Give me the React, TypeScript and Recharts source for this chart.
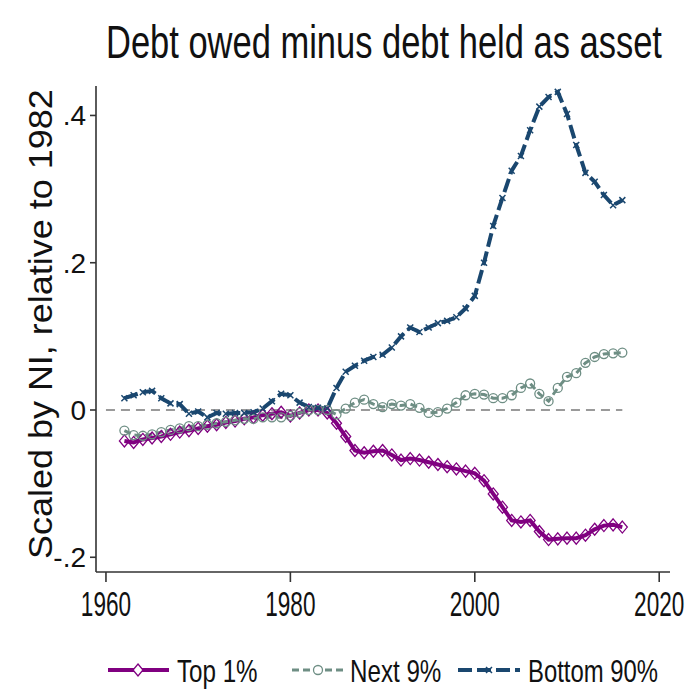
import React from "react";
import { LineChart, Line, XAxis, YAxis, ReferenceLine } from "recharts";

// annual values
const years = [
  1962, 1963, 1964, 1965, 1966, 1967, 1968, 1969, 1970, 1971,
  1972, 1973, 1974, 1975, 1976, 1977, 1978, 1979, 1980, 1981,
  1982, 1983, 1984, 1985, 1986, 1987, 1988, 1989, 1990, 1991,
  1992, 1993, 1994, 1995, 1996, 1997, 1998, 1999, 2000, 2001,
  2002, 2003, 2004, 2005, 2006, 2007, 2008, 2009, 2010, 2011,
  2012, 2013, 2014, 2015, 2016,
];

const top1 = [
  -0.042, -0.044, -0.04, -0.038, -0.036, -0.033, -0.03, -0.028, -0.025, -0.022,
  -0.02, -0.017, -0.015, -0.012, -0.01, -0.007, -0.005, -0.003, -0.008, -0.004,
  0.0, 0.0, -0.004, -0.018, -0.036, -0.055, -0.058, -0.056, -0.055, -0.061,
  -0.068, -0.066, -0.068, -0.071, -0.074, -0.077, -0.08, -0.083, -0.086, -0.096,
  -0.114, -0.132, -0.15, -0.152, -0.15, -0.165, -0.176, -0.175, -0.174, -0.174,
  -0.17, -0.162, -0.157, -0.156, -0.159,
];

const next9 = [
  -0.028, -0.034, -0.035, -0.033, -0.03, -0.027, -0.025, -0.022, -0.022, -0.02,
  -0.018, -0.016, -0.014, -0.012, -0.012, -0.01, -0.01, -0.01, -0.008, -0.004,
  0.0, 0.0, 0.0, -0.006, 0.002, 0.01, 0.014, 0.008, 0.004, 0.008,
  0.006, 0.008, 0.003, -0.004, -0.003, 0.002, 0.01, 0.02, 0.022, 0.021,
  0.016, 0.016, 0.02, 0.03, 0.036, 0.022, 0.012, 0.03, 0.045, 0.05,
  0.064, 0.072, 0.076, 0.077, 0.078,
];

const bottom90 = [
  0.016, 0.02, 0.024, 0.026, 0.016, 0.009, 0.008, -0.005, -0.002, -0.01,
  -0.004, -0.005, -0.004, -0.004, -0.003, 0.002, 0.012, 0.022, 0.02, 0.01,
  0.004, 0.003, 0.002, 0.03, 0.052, 0.06, 0.067, 0.072, 0.075, 0.085,
  0.1, 0.112, 0.106, 0.112, 0.118, 0.121, 0.126, 0.138, 0.155, 0.2,
  0.25, 0.288, 0.325, 0.345, 0.38, 0.412, 0.425, 0.432, 0.402, 0.36,
  0.322, 0.31, 0.292, 0.278, 0.285,
];

const xTicks = [1960, 1980, 2000, 2020];
const yTicks = [-0.2, 0, 0.2, 0.4];
const yTickLabels = ["-.2", "0", ".2", ".4"];

const data = years.map((yr, i) => ({
  year: yr,
  top1: top1[i],
  next9: next9[i],
  bottom90: bottom90[i],
}));

const PURPLE = "#800080";
const TEAL = "#6e8e84";
const NAVY = "#1a476f";
const AXIS = "#333333";
const FONT = "'Liberation Sans', Arial, Helvetica, sans-serif";

function diamondPath(cx: number, cy: number) {
  return `M${cx},${cy - 6}L${cx + 5},${cy}L${cx},${cy + 6}L${cx - 5},${cy}Z`;
}

function crossPath(cx: number, cy: number, s = 3) {
  return `M${cx - s},${cy - s}L${cx + s},${cy + s}M${cx - s},${cy + s}L${cx + s},${cy - s}`;
}

function DiamondDot(props: any) {
  const { cx, cy, index } = props;
  if (cx == null || cy == null) return null;
  return <path key={`t${index}`} d={diamondPath(cx, cy)} fill="none" stroke={PURPLE} strokeWidth={1.3} />;
}

function CircleDot(props: any) {
  const { cx, cy, index } = props;
  if (cx == null || cy == null) return null;
  return <circle key={`n${index}`} cx={cx} cy={cy} r={4.5} fill="none" stroke={TEAL} strokeWidth={1.3} />;
}

function CrossDot(props: any) {
  const { cx, cy, index } = props;
  if (cx == null || cy == null) return null;
  return <path key={`b${index}`} d={crossPath(cx, cy)} stroke={NAVY} strokeWidth={1.5} />;
}

// the reference's lettering is narrow, so text is squeezed sideways
function XTick(props: any) {
  const { x, y, payload } = props;
  return (
    <text transform={`translate(${x},${y + 32}) scale(0.645,1)`} textAnchor="middle"
      fontFamily={FONT} fontSize={35} fill="#111">
      {payload.value}
    </text>
  );
}

function YTick(props: any) {
  const { x, y, payload } = props;
  const i = yTicks.indexOf(payload.value);
  return (
    <text x={x} y={y + 10} textAnchor="end" fontFamily={FONT} fontSize={28} fill="#111">
      {i >= 0 ? yTickLabels[i] : payload.value}
    </text>
  );
}

function Overlay() {
  return (
    <svg width={689} height={691} style={{ position: "absolute", left: 0, top: 0, pointerEvents: "none" }}>
      <text transform="translate(106,58) scale(0.75,1)" fontFamily={FONT} fontSize={46} fill="#111">
        Debt owed minus debt held as asset
      </text>
      <text transform="translate(52,559) rotate(-90) scale(1.058,1)" fontFamily={FONT} fontSize={34} fill="#111">
        Scaled by NI, relative to 1982
      </text>

      <line x1={108} y1={670} x2={169} y2={670} stroke={PURPLE} strokeWidth={4} />
      <path d={diamondPath(138, 670)} fill="#fff" stroke={PURPLE} strokeWidth={1.3} />
      <text transform="translate(177,682) scale(0.78,1)" fontFamily={FONT} fontSize={31} fill="#111">Top 1%</text>

      <line x1={292} y1={670} x2={345} y2={670} stroke={TEAL} strokeWidth={3} strokeDasharray="7 4" />
      <circle cx={318} cy={670} r={4.5} fill="#fff" stroke={TEAL} strokeWidth={1.3} />
      <text transform="translate(350,682) scale(0.78,1)" fontFamily={FONT} fontSize={31} fill="#111">Next 9%</text>

      <line x1={458} y1={670} x2={520} y2={670} stroke={NAVY} strokeWidth={4} strokeDasharray="14 5" />
      <path d={crossPath(489, 670)} stroke={NAVY} strokeWidth={1.5} />
      <text transform="translate(528,682) scale(0.77,1)" fontFamily={FONT} fontSize={31} fill="#111">Bottom 90%</text>
    </svg>
  );
}

export default function App() {
  return (
    <div style={{ position: "absolute", left: 0, top: 0, width: 689, height: 691, background: "#fff" }}>
      <LineChart width={689} height={691} data={data} margin={{ top: 86, right: 19, bottom: 69, left: 36 }}>
        <XAxis
          dataKey="year"
          type="number"
          domain={[1958.92, 2021.17]}
          ticks={xTicks}
          allowDataOverflow
          height={50}
          tickSize={10}
          tickMargin={2}
          tick={<XTick />}
          axisLine={{ stroke: AXIS, strokeWidth: 1.6 }}
          tickLine={{ stroke: AXIS, strokeWidth: 1.6 }}
        />
        <YAxis
          type="number"
          domain={[-0.22, 0.44]}
          ticks={yTicks}
          allowDataOverflow
          width={60}
          tickSize={6}
          tickMargin={4}
          tick={<YTick />}
          axisLine={{ stroke: AXIS, strokeWidth: 1.6 }}
          tickLine={{ stroke: AXIS, strokeWidth: 1.6 }}
        />
        <ReferenceLine
          segment={[{ x: 1960, y: 0 }, { x: 2016, y: 0 }]}
          stroke="#9a9a9a"
          strokeWidth={2}
          strokeDasharray="9 6"
        />
        <Line dataKey="top1" type="linear" stroke={PURPLE} strokeWidth={4} dot={DiamondDot} isAnimationActive={false} />
        <Line dataKey="next9" type="linear" stroke={TEAL} strokeWidth={3} strokeDasharray="7 4" dot={CircleDot} isAnimationActive={false} />
        <Line dataKey="bottom90" type="linear" stroke={NAVY} strokeWidth={4} strokeDasharray="14 5" dot={CrossDot} isAnimationActive={false} />
      </LineChart>
      <Overlay />
    </div>
  );
}
